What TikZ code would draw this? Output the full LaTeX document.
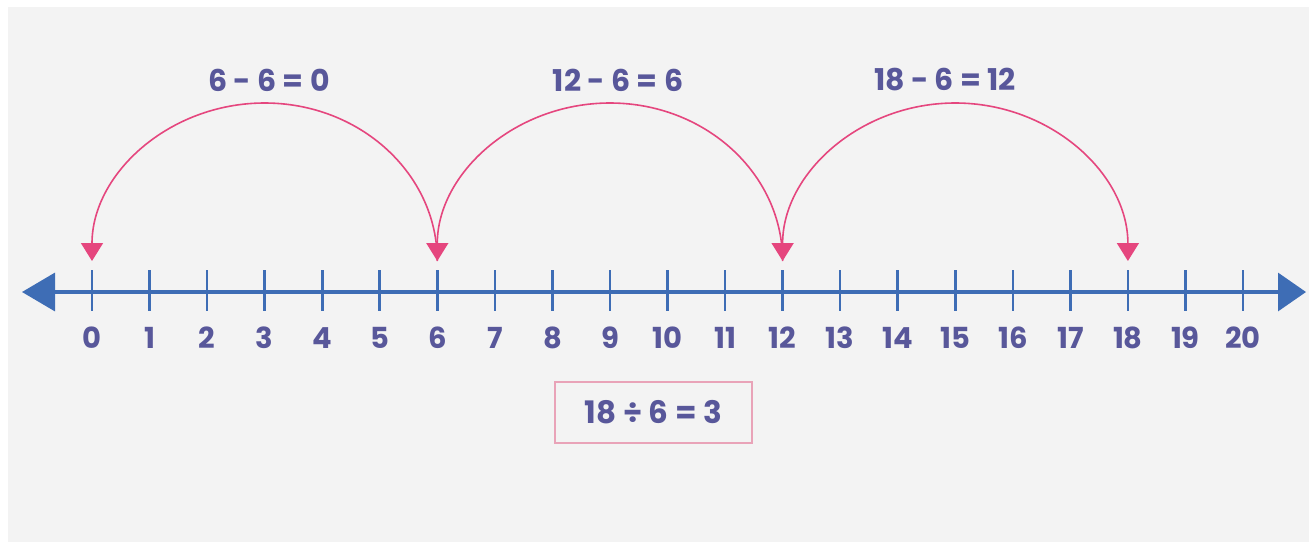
\documentclass[tikz,border=0pt]{standalone}
\usepackage{fontspec}
\setmainfont{Poppins}[UprightFont=* SemiBold, BoldFont=* Bold]
\usetikzlibrary{arrows.meta}
\definecolor{bgg}{HTML}{F3F3F3}
\definecolor{axisblue}{HTML}{3E6DB5}
\definecolor{txtpurple}{HTML}{58579A}
\definecolor{arcpink}{HTML}{E5467E}
\definecolor{boxpink}{HTML}{E9A3B8}
\tikzset{
  numlabel/.style={text=txtpurple, font=\fontsize{29}{30}\selectfont\bfseries, anchor=center, inner sep=0pt},
  eqlabel/.style={text=txtpurple, font=\fontsize{30}{34}\selectfont\bfseries, anchor=center, inner sep=0pt},
  tick/.style={draw=axisblue, line width=2.6pt},
  hop/.style={draw=arcpink, line width=1.6pt},
  resbox/.style={draw=boxpink, line width=1.6pt, text=txtpurple, font=\fontsize{31}{34}\selectfont\bfseries,
    minimum width=197pt, minimum height=61pt, inner sep=0pt}
}
\begin{document}
\begin{tikzpicture}[x=1pt,y=-1pt]
\useasboundingbox (0,0) rectangle (1309,542);
\fill[white] (0,0) rectangle (1309,542);
\fill[bgg] (8,7) rectangle (1309,542);
% axis
\coordinate (L) at (22,292);
\coordinate (R) at (1306,292);
\draw[draw=axisblue, line width=3.4pt, {Triangle[width=38pt,length=33pt]}-{Triangle[width=38pt,length=28pt]}, axisblue] (L) -- (R);
\foreach \i in {0,...,20}{
  \pgfmathsetmacro{\xx}{92+57.55*\i}
  \coordinate (t\i) at (\xx,292);
  \draw[tick] (\xx,270) -- (\xx,311);
  \node[numlabel] (n\i) at (\xx,338) {\i};
}
% hops
\coordinate (a0) at (92,261);
\coordinate (a6) at (437.3,261);
\coordinate (a12) at (782.6,261);
\coordinate (a18) at (1127.9,261);
\draw[hop, -{Triangle[width=22pt,length=18pt]}, arcpink] (a6) arc[start angle=0, end angle=-180, x radius=172.65, y radius=158];
\draw[hop, -{Triangle[width=22pt,length=18pt]}, arcpink] (a12) arc[start angle=0, end angle=-180, x radius=172.65, y radius=158];
\draw[hop, {Triangle[width=22pt,length=18pt]}-{Triangle[width=22pt,length=18pt]}, arcpink] (a18) arc[start angle=0, end angle=-180, x radius=172.65, y radius=158];
% labels
\node[eqlabel] (e1) at (269,80) {6 - 6 = 0};
\node[eqlabel] (e2) at (618,80) {12 - 6 = 6};
\node[eqlabel] (e3) at (945,80) {18 - 6 = 12};
% result box
\node[resbox] (res) at (653.5,412.5) {18 ÷ 6 = 3};
\end{tikzpicture}
\end{document}
